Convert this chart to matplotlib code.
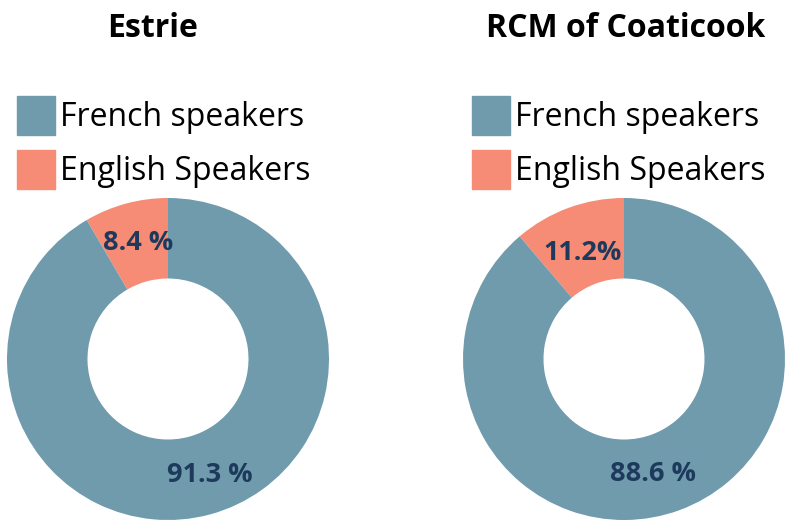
import matplotlib.pyplot as plt
from matplotlib.patches import Patch
import numpy as np

regions = ["Estrie", "RCM of Coaticook"]
languages = ["English Speakers", "French speakers"]
english = [8.4, 11.2]
french = [91.3, 88.6]
english_labels = ["8.4 %", "11.2%"]
french_labels = ["91.3 %", "88.6 %"]

c_fr = "#6f9bad"
c_en = "#f68b76"
c_txt = "#1d3a5c"

W, H = 785, 529
fig = plt.figure(figsize=(W / 100, H / 100), dpi=100)

centers = [168, 624]
title_x = [153, 626]
legend_x = [17, 472]
# small nudges of the value labels (radius units), as in the original layout
nudges = [[(0.01, -0.006), (0.062, 0.005)], [(0.0, -0.045), (-0.08, -0.012)]]
R = 161
for i, cx in enumerate(centers):
    cy = 359
    ax = fig.add_axes([(cx - R) / W, (H - cy - R) / H, 2 * R / W, 2 * R / H])
    wedges, _ = ax.pie([english[i], french[i]], colors=[c_en, c_fr],
                       startangle=90, counterclock=True,
                       wedgeprops=dict(width=0.5, linewidth=0))
    ax.set_xlim(-1, 1)
    ax.set_ylim(-1, 1)
    ax.set_aspect("equal")
    for w, lab, (dx, dy) in zip(wedges, [english_labels[i], french_labels[i]], nudges[i]):
        ang = np.deg2rad((w.theta1 + w.theta2) / 2)
        ax.text(0.75 * np.cos(ang) + dx, 0.75 * np.sin(ang) + dy, lab, ha="center", va="center",
                fontsize=19.5, fontweight="bold", color=c_txt, family="Open Sans")

    fig.text(title_x[i] / W, 1 - 37 / H, regions[i], ha="center", va="baseline",
             fontsize=23, fontweight="bold", family="Open Sans")

    handles = [Patch(color=c_fr, label=languages[1]), Patch(color=c_en, label=languages[0])]
    fig.legend(handles=handles, loc="upper left", bbox_to_anchor=(legend_x[i] / W, 1 - 96 / H),
               frameon=False, borderpad=0, borderaxespad=0,
               handlelength=1.2, handleheight=1.5, handletextpad=0.15,
               labelspacing=0.47, prop=dict(family="Open Sans", size=23))

plt.savefig("out.png", dpi=100)
plt.close()
